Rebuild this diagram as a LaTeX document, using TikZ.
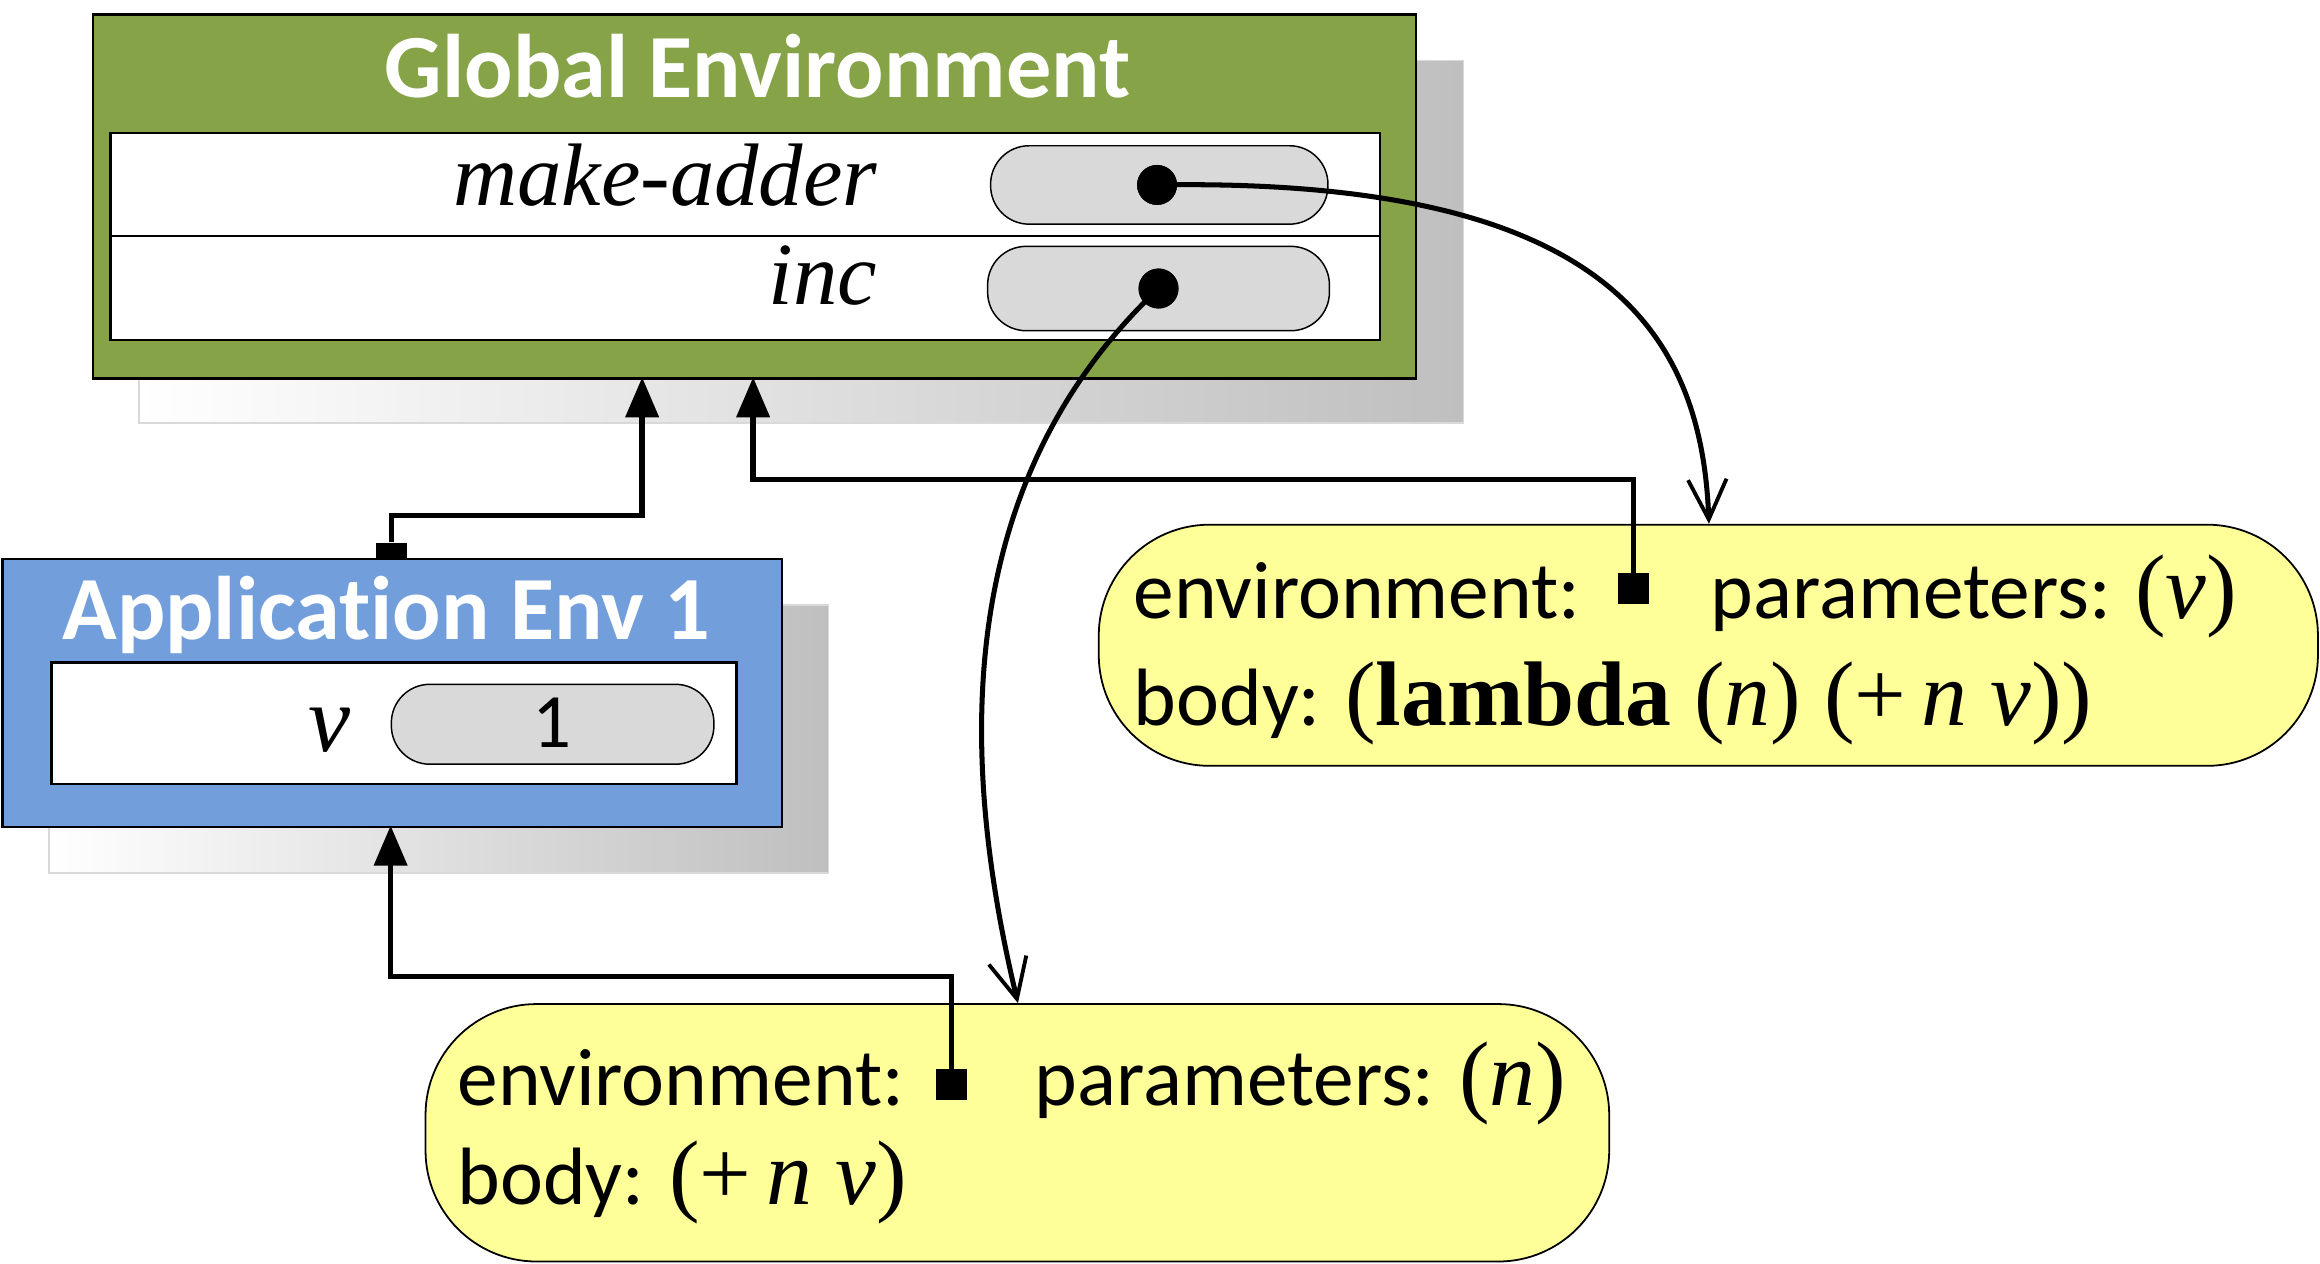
\documentclass[tikz,border=0pt]{standalone}
\usepackage{fontspec}
\setmainfont{Carlito}[RawFeature={-liga}]
\newfontfamily\tms{Liberation Serif}
\newcommand\tmsbig{\tms\fontsize{62}{62}\selectfont}
\usetikzlibrary{arrows.meta}
\definecolor{envgreen}{HTML}{86A447}
\definecolor{envblue}{HTML}{729FDB}
\definecolor{closureyellow}{HTML}{FFFF99}
\definecolor{pillgray}{HTML}{D9D9D9}
\definecolor{shadowgray}{HTML}{BFBFBF}
\begin{document}
\begin{tikzpicture}[x=1pt,y=-1pt,
  shadowbox/.style={left color=white,right color=shadowgray,draw=shadowgray!60,line width=1pt},
  envbox/.style={draw=black,line width=1.5pt,anchor=north west,inner sep=0pt},
  tablebox/.style={fill=white,draw=black,line width=1.5pt,anchor=north west,inner sep=0pt},
  pill/.style={fill=pillgray,draw=black,line width=1pt,rounded corners=26pt,anchor=north west,inner sep=0pt},
  closure/.style={fill=closureyellow,draw=black,line width=1.2pt,rounded corners=75pt,anchor=north west,inner sep=0pt},
  title/.style={text=white,font=\fontsize{61}{61}\selectfont\bfseries,inner sep=0pt,anchor=base},
  sans/.style={font=\fontsize{55}{55}\selectfont,inner sep=0pt,anchor=base west},
  varname/.style={font=\tms\fontsize{60}{60}\selectfont\itshape,inner sep=0pt,anchor=base east},
  link/.style={line width=3.6pt,-{Triangle[length=27pt,width=22pt]}},
  pointer/.style={line width=3.4pt,-{Straight Barb[length=27pt,width=26pt,line width=2.6pt]}},
  envsq/.style={fill=black,minimum width=21pt,minimum height=21pt,inner sep=0pt},
  dot/.style={fill=black,circle,minimum size=27pt,inner sep=0pt},
]
\useasboundingbox (0,0) rectangle (1568,854);

% ---------- Global environment ----------
\shade[shadowbox] (94,41) rectangle (989,286);
\node[envbox,fill=envgreen,minimum width=894pt,minimum height=246pt] (global) at (62,9) {};
\node[title] (globaltitle) at (512,66) {Global Environment};
\node[tablebox,minimum width=858pt,minimum height=70pt] (row1) at (74,89) {};
\node[tablebox,minimum width=858pt,minimum height=70pt] (row2) at (74,159) {};
\node[varname] (maname) at (593,139) {make-adder};
\node[varname] (incname) at (593,206) {inc};
\node[pill,minimum width=228pt,minimum height=53pt] (mapill) at (669,98) {};
\node[pill,minimum width=231pt,minimum height=57pt] (incpill) at (667,166) {};

% ---------- Application environment ----------
\shade[shadowbox] (33,409) rectangle (560,590);
\node[envbox,fill=envblue,minimum width=527pt,minimum height=181pt] (app) at (1,377) {};
\node[title] (apptitle) at (261,432) {Application Env 1};
\node[tablebox,minimum width=463pt,minimum height=82pt] (approw) at (34,447) {};
\node[varname,font=\tms\fontsize{64}{64}\selectfont\itshape] (vname) at (237,508) {v};
\node[pill,minimum width=218pt,minimum height=54pt] (vpill) at (264,462) {};
\node[font=\fontsize{52}{52}\selectfont,inner sep=0pt,anchor=base] (vval) at (373,505) {1};
\node[fill=black,minimum width=21pt,minimum height=10pt,inner sep=0pt,anchor=south] (appsq) at (264.5,377) {};

% ---------- Closures ----------
\node[closure,minimum width=824pt,minimum height=163pt] (clo1) at (742,354) {};
\node[sans] (c1env) at (766,418) {environment:};
\node[sans] (c1par) at (1156,418) {parameters: {\tmsbig(\textit{v})}};
\node[sans] (c1body) at (766,490) {body: {\tmsbig(\textbf{lambda} (\textit{n}) (+\,\textit{n} \textit{v}))}};

\node[closure,minimum width=800pt,minimum height=174pt] (clo2) at (287,678) {};
\node[sans] (c2env) at (309,747) {environment:};
\node[sans] (c2par) at (699,747) {parameters: {\tmsbig(\textit{n})}};
\node[sans] (c2body) at (309,814) {body: {\tmsbig(+\,\textit{n} \textit{v})}};

% ---------- connector end points ----------
\coordinate (gin1) at (434,255);
\coordinate (gin2) at (509,255);
\coordinate (ain) at (264,558);
\coordinate (c1top) at (1155,354);
\coordinate (c2top) at (688,678);
\node[envsq] (c1sq) at (1104,398) {};
\node[envsq] (c2sq) at (643,733) {};

% ---------- environment links ----------
\draw[link] (appsq.north) -- ++(0,-18) -| (gin1);
\draw[link] (c1sq.center) -- ++(0,-74) -| (gin2);
\draw[link] (c2sq.center) -- ++(0,-73) -| (ain);
\node[envsq] at (c1sq) {};
\node[envsq] at (c2sq) {};

% ---------- pointers ----------
\node[dot] (madot) at (782,125) {};
\node[dot] (incdot) at (783,195) {};
\draw[pointer] (madot.center) .. controls (1080,120) and (1150,220) .. (c1top);
\draw[pointer] (incdot.center) .. controls (640,330) and (650,520) .. (c2top);
\node[dot] at (madot) {};
\node[dot] at (incdot) {};
\end{tikzpicture}
\end{document}
